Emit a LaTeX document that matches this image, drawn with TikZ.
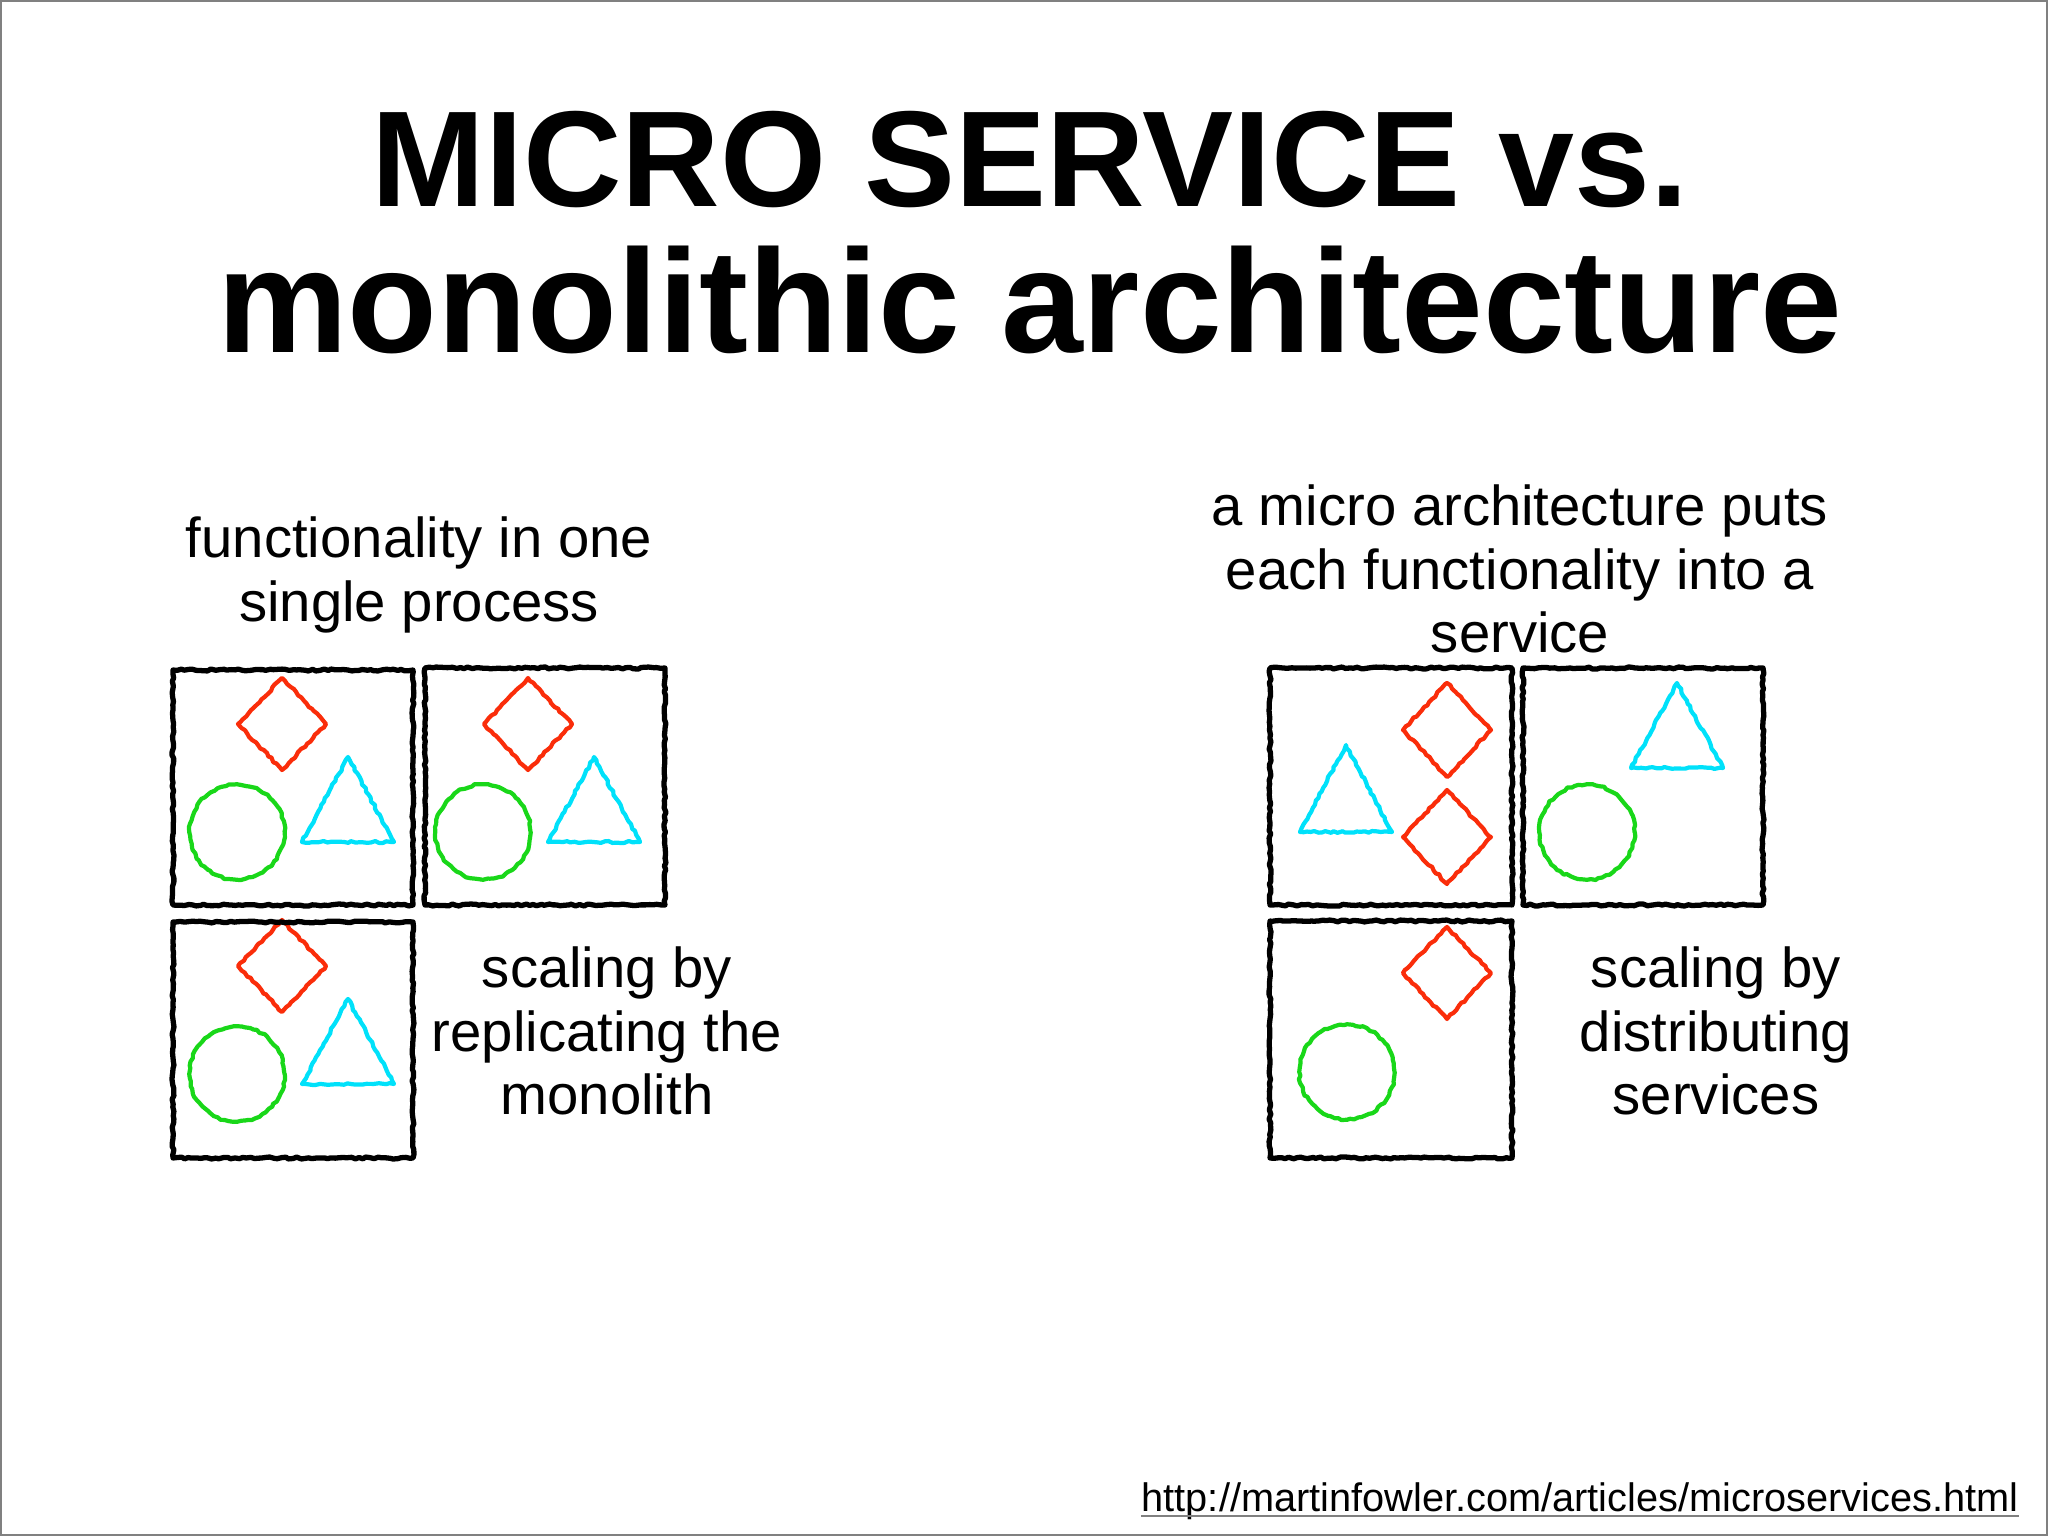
\documentclass[tikz,border=0pt]{standalone}
\usepackage{fontspec}
\setmainfont{Liberation Sans}
\usetikzlibrary{decorations.pathmorphing}
\definecolor{chalkred}{RGB}{250,45,10}
\definecolor{chalkgreen}{RGB}{25,215,25}
\definecolor{chalkcyan}{RGB}{0,225,250}
\tikzset{
  chalk/.style={decorate, decoration={random steps, segment length=1.1pt, amplitude=0.28pt},
    line join=round, line cap=round},
  svcbox/.style={chalk, draw=black, line width=1.5pt},
  redpart/.style={chalk, draw=chalkred, line width=1.2pt},
  greenpart/.style={chalk, draw=chalkgreen, line width=1.2pt},
  cyanpart/.style={chalk, draw=chalkcyan, line width=1.2pt},
  caption/.style={font=\fontsize{16}{18}\selectfont, align=center, inner sep=0pt},
}
\begin{document}
\begin{tikzpicture}[x=0.01cm, y=-0.01cm]
  \pgfmathsetseed{7}
  \useasboundingbox (0,0) rectangle (2048,1536);
  \draw[gray, line width=0.6pt] (1,1) rectangle (2047,1535);

  % title
  \node[font=\fontsize{38.8}{40}\selectfont\bfseries, anchor=base] (title1) at (1030,206) {MICRO SERVICE vs.};
  \node[font=\fontsize{41.8}{44}\selectfont\bfseries, anchor=base] (title2) at (1030,352) {monolithic architecture};

  % monolith, replicated
  \node[caption] (monotext) at (419,575) {functionality in one\\single process};
  \foreach \dx/\dy in {0/0, 246/0, 0/242} {
    \begin{scope}[shift={(\dx,\dy)}]
      \draw[redpart] (282,678) -- (326,724) -- (282,770) -- (238,724) -- cycle;
      \draw[greenpart] (237,832) circle[radius=0.475cm];
      \draw[cyanpart] (348,757) -- (394,842) -- (302,842) -- cycle;
    \end{scope}
  }
  \draw[svcbox] (173,670) rectangle (413,905);
  \draw[svcbox] (425,668) rectangle (665,905);
  \draw[svcbox] (173,922) rectangle (413,1158);
  \node[caption] (monoscale) at (607,1031) {scaling by\\replicating the\\monolith};

  % micro services, distributed
  \node[caption] (microtext) at (1520,569) {a micro architecture puts\\each functionality into a\\service};
  \draw[svcbox] (1270,668) rectangle (1512,905);
  \draw[svcbox] (1523,668) rectangle (1763,905);
  \draw[svcbox] (1270,921) rectangle (1512,1158);
  % box A
  \draw[cyanpart] (1346,745) -- (1392,832) -- (1300,832) -- cycle;
  \draw[redpart] (1447,683) -- (1491,730) -- (1447,777) -- (1403,730) -- cycle;
  \draw[redpart] (1447,790) -- (1491,837) -- (1447,884) -- (1403,837) -- cycle;
  % box B
  \draw[cyanpart] (1677,683) -- (1723,768) -- (1631,768) -- cycle;
  \draw[greenpart] (1587,832) circle[radius=0.475cm];
  % box C
  \draw[redpart] (1447,927) -- (1491,973) -- (1447,1019) -- (1403,973) -- cycle;
  \draw[greenpart] (1347,1072) circle[radius=0.475cm];
  \node[caption] (microscale) at (1716,1031) {scaling by\\distributing\\services};

  % source
  \node[font=\fontsize{11.3}{13}\selectfont, anchor=base, inner sep=0pt] (url) at (1580,1511)
    {http://martinfowler.com/articles/microservices.html};
  \draw[gray, line width=0.6pt] ([yshift=-1.3pt]url.base west) -- ([yshift=-1.3pt]url.base east);
\end{tikzpicture}
\end{document}
